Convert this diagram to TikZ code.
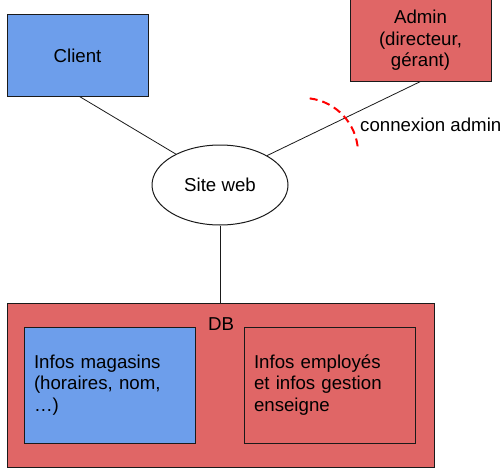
\documentclass[tikz,border=0pt]{standalone}
\usepackage{fontspec}
\setmainfont{Liberation Sans}
\usepackage{tikz}
\usetikzlibrary{positioning,shapes.geometric}
\definecolor{cUser}{HTML}{6D9EEB}
\definecolor{cAdm}{HTML}{E06666}
\definecolor{cLine}{HTML}{1A1A1A}
\definecolor{cMark}{HTML}{FF0000}
\tikzset{
  base/.style={draw=cLine,line width=1pt,align=center,inner sep=2pt,font=\fontsize{18.67}{21.5}\selectfont},
  unode/.style={base,rectangle,fill=cUser,minimum width=141pt,minimum height=81pt},
  anode/.style={base,rectangle,fill=cAdm,minimum width=141pt,minimum height=81pt},
  wnode/.style={base,ellipse,fill=white,minimum width=136pt,minimum height=80pt},
  dbnode/.style={base,rectangle,fill=cAdm,minimum width=427pt,minimum height=164pt},
  inode/.style={base,rectangle,align=left,text width=151pt,inner xsep=10pt,minimum height=116pt},
  lnk/.style={draw=cLine,line width=0.8pt},
  admarc/.style={draw=cMark,line width=2pt,dash pattern=on 8pt off 5pt},
  lbl/.style={font=\fontsize{18.67}{21.5}\selectfont,inner sep=2pt}}
\begin{document}
\begin{tikzpicture}[x=1pt,y=1pt]
\useasboundingbox (0,0) rectangle (502,475);
\node[unode] (client) at (77.5,419.5) {Client};
\node[anode] (admin) at (420.5,434.5) {Admin\\(directeur,\\gérant)};
\node[wnode] (site) at (220,290) {Site web};
\node[dbnode] (db) at (220.5,90) {};
\node[lbl] (dbtitle) at (221,151) {DB};
\node[inode,fill=cUser] (mag) at (109.5,90) {Infos magasins\\(horaires, nom,\\…)};
\node[inode,fill=cAdm] (emp) at (329.5,90) {Infos employés\\et infos gestion\\enseigne};
\draw[lnk] ([xshift=2pt]client.south) -- (site.145);
\draw[lnk] (admin.south) -- (site.32);
\draw[lnk] (site.south) -- (site.south |- db.north);
% admin connection mark
\coordinate (arcc) at (303,322);
\draw[admarc] ([shift={(83:55)}]arcc) arc[start angle=83,end angle=3,radius=55];
\node[lbl,anchor=west] (conlbl) at (358,350) {connexion admin};
\end{tikzpicture}
\end{document}
